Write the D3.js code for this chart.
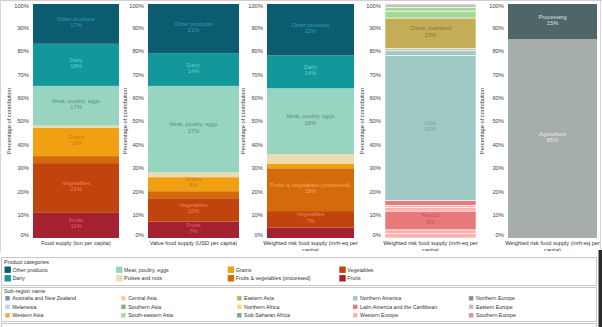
<!DOCTYPE html>
<html>
<head>
<meta charset="utf-8">
<script src="https://cdn.jsdelivr.net/npm/d3@7"></script>
<style>
  body { margin: 0; background: #fff; }
  text { font-family: "Liberation Sans", Arial, sans-serif; }
</style>
</head>
<body>
<script>
var w = 602;
var h = 327;
var svg = d3.select("body").append("svg").attr("width", w).attr("height", h);

// product categories, bottom of the stack first
var categories = ["Fruits", "Vegetables", "Fruits & vegetables (processed)", "Grains",
                  "Pulses and nuts", "Meat, poultry, eggs", "Dairy", "Other products"];
var foodSupply = [11, 21, 3, 12, 1, 17, 18, 17];
var valueSupply = [7, 10, 3, 6, 2, 37, 14, 21];
var riskSupply = [4.5, 7, 18.3, 2, 4, 28.2, 14, 22];
var catColors = ["#a4222f", "#c0440c", "#d46b0a", "#f0a010", "#eedcb0", "#98d5c1", "#12979a", "#0c5c70"];
var catText = ["#ee5a6e", "#f5825f", "#f6a566", "#c47e12", "#b9a46e", "#5f8d80", "#66cfcf", "#2f9fb8"];

// countries by weighted risk, bottom first
var countries = ["France", "Netherlands", "Mexico", "Germany", "Belgium", "Brazil", "USA",
                 "Canada", "Russia", "China, mainland", "Thailand", "Viet Nam", "Poland"];
var countryRegion = ["Western Europe", "Western Europe", "Latin America and the Caribbean", "Western Europe",
                     "Western Europe", "Latin America and the Caribbean", "Northern America", "Northern America",
                     "Eastern Europe", "Eastern Asia", "South-eastern Asia", "South-eastern Asia", "Eastern Europe"];
var countryRisk = [2, 1.5, 8, 1.5, 1, 2, 62, 2, 1, 13, 3, 1.5, 1.5];

// sub-regions (legend order) and colours
var regions = ["Australia and New Zealand", "Melanesia", "Western Asia", "Central Asia", "Southern Asia",
               "South-eastern Asia", "Eastern Asia", "Northern Africa", "Sub-Saharan Africa", "Northern America",
               "Latin America and the Caribbean", "Western Europe", "Northern Europe", "Eastern Europe", "Southern Europe"];
var regionColors = ["#4e79a7", "#a0cbe8", "#f28e2b", "#ffbe7d", "#59a14f", "#8cd17d", "#b6992d", "#f1ce63",
                    "#499894", "#86bcb6", "#e15759", "#ff9d9a", "#79706e", "#bab0ac", "#d37295"];
var regionText = {"China, mainland": "#8a7532", "USA": "#74a8a0", "Mexico": "#c0585c"};

// supply chain stages
var stages = ["Agriculture", "Processing"];
var stageRisk = [85, 15];
var stageColors = ["#a5aeaa", "#4f6669"];
var stageText = ["#e6eae8", "#d9e2e2"];

var ticks = [0, 0.1, 0.2, 0.3, 0.4, 0.5, 0.6, 0.7, 0.8, 0.9, 1];
var xLabels = [["Food supply (ton per capita)"], ["Value food supply (USD per capita)"],
               ["Weighted risk food supply (mrh-eq per", "capita)"],
               ["Weighted risk food supply (mrh-eq per", "capita)"],
               ["Weighted risk food supply (mrh-eq per", "capita)"]];

var panelX = [0, 116, 234, 353, 473];
var barL = [33, 148, 267, 385, 508];
var barR = [119, 239, 354, 476, 597];

var yS = d3.scaleLinear().domain([0, 1]).range([238, 4]);
var yA = d3.axisLeft(yS).tickValues(ticks).tickFormat(d3.format(".0%")).tickSize(0).tickPadding(3);

svg.append("defs").append("clipPath").attr("id", "clip")
    .append("rect").attr("x", 0).attr("y", 0).attr("width", w).attr("height", 251);
var chart = svg.append("g").attr("clip-path", "url(#clip)");

// frame lines
svg.append("line").attr("x1", 0).attr("x2", w).attr("y1", 0.5).attr("y2", 0.5).attr("stroke", "#cfcfcf");
svg.append("line").attr("x1", 0.5).attr("x2", 0.5).attr("y1", 0).attr("y2", 252).attr("stroke", "#d6d6d6");
svg.append("line").attr("x1", 600.5).attr("x2", 600.5).attr("y1", 0).attr("y2", 252).attr("stroke", "#d6d6d6");

function stackOf(names, vals) {
    var out = [], acc = 0;
    for (var i = 0; i < vals.length; i++) {
        out.push({name: names[i], v: vals[i], y0: acc / 100, y1: (acc + vals[i]) / 100, i: i});
        acc += vals[i];
    }
    return out;
}

function drawPanel(p, segs, fill, txt, opts) {
    var g = chart.append("g");
    var ax = g.append("g").attr("transform", "translate(" + (barL[p] - 1) + ",0)").call(yA);
    ax.select(".domain").remove();
    ax.selectAll("text").attr("font-size", "5.8px").attr("fill", "#444")
        .attr("font-family", "Liberation Sans, Arial, sans-serif")
        .attr("dy", function(d) { return d == 1 ? "0.6em" : (d == 0 ? "-0.2em" : "0.32em"); });

    g.append("text").text("Percentage of contribution")
        .attr("transform", "translate(" + (panelX[p] + 11) + ",121) rotate(-90)")
        .attr("text-anchor", "middle").attr("font-size", "5.7px").attr("fill", "#333");

    g.selectAll("rect.seg").data(segs).enter().append("rect")
        .attr("class", "seg")
        .attr("x", barL[p]).attr("width", barR[p] - barL[p])
        .attr("y", function(d) { return yS(d.y1); })
        .attr("height", function(d) { return yS(d.y0) - yS(d.y1); })
        .attr("fill", function(d) { return fill(d); })
        .attr("fill-opacity", opts.opacity || 1)
        .attr("stroke", opts.stroke ? "#fff" : "none")
        .attr("stroke-width", 0.6);

    var lab = g.selectAll("g.lab").data(segs.filter(function(d) { return opts.show(d); })).enter().append("g")
        .attr("transform", function(d) {
            return "translate(" + (barL[p] + barR[p]) / 2 + "," + (yS(d.y0) + yS(d.y1)) / 2 + ")";
        });
    lab.append("text").text(function(d) { return d.name; }).attr("y", -3)
        .attr("text-anchor", "middle").attr("font-size", "5.7px").attr("fill", function(d) { return txt(d); });
    lab.append("text").text(function(d) { return Math.round(d.v) + "%"; }).attr("y", 3.3)
        .attr("text-anchor", "middle").attr("font-size", "5.7px").attr("fill", function(d) { return txt(d); });

    g.selectAll("text.xl").data(xLabels[p]).enter().append("text")
        .attr("class", "xl").text(function(d) { return d; })
        .attr("x", (barL[p] + barR[p]) / 2).attr("y", function(d, i) { return 245 + i * 6.5; })
        .attr("text-anchor", "middle").attr("font-size", "5.6px").attr("fill", "#333");
}

function catFill(d) { return catColors[d.i]; }
function catTxt(d) { return catText[d.i]; }
function big(d) { return d.v >= 5; }

drawPanel(0, stackOf(categories, foodSupply), catFill, catTxt, {show: big});
drawPanel(1, stackOf(categories, valueSupply), catFill, catTxt, {show: big});
drawPanel(2, stackOf(categories, riskSupply), catFill, catTxt, {show: big});
drawPanel(3, stackOf(countries, countryRisk),
    function(d) { return regionColors[regions.indexOf(countryRegion[d.i])]; },
    function(d) { return regionText[d.name]; },
    {show: function(d) { return d.v >= 5; }, opacity: 0.8, stroke: true});
drawPanel(4, stackOf(stages, stageRisk),
    function(d) { return stageColors[d.i]; },
    function(d) { return stageText[d.i]; },
    {show: big});

// legends
var leg = svg.append("g");
leg.append("rect").attr("x", 1.5).attr("y", 257.5).attr("width", 595).attr("height", 28)
    .attr("fill", "none").attr("stroke", "#c9c9c9");
leg.append("rect").attr("x", 1.5).attr("y", 287.5).attr("width", 595).attr("height", 34)
    .attr("fill", "none").attr("stroke", "#c9c9c9");
leg.append("rect").attr("x", 1.5).attr("y", 323.5).attr("width", 595).attr("height", 10)
    .attr("fill", "none").attr("stroke", "#c9c9c9");
svg.append("rect").attr("x", 598.5).attr("y", 250).attr("width", 4).attr("height", 77).attr("fill", "#2b2b2b");

leg.append("text").text("Product categories").attr("x", 4).attr("y", 264.3)
    .attr("font-size", "5.4px").attr("fill", "#333");
leg.append("text").text("Sub-region name").attr("x", 4).attr("y", 293)
    .attr("font-size", "5.4px").attr("fill", "#333");

// product legend in column order, top category first
var catLegend = categories.slice().reverse();
var catLegendColor = catColors.slice().reverse();
var cl = leg.selectAll("g.cl").data(catLegend).enter().append("g")
    .attr("transform", function(d, i) {
        return "translate(" + (4.5 + Math.floor(i / 2) * 111.6) + "," + (269.7 + (i % 2) * 8.6) + ")";
    });
cl.append("rect").attr("x", 0).attr("y", -3.2).attr("width", 6.4).attr("height", 6.4)
    .attr("fill", function(d, i) { return catLegendColor[i]; });
cl.append("text").text(function(d) { return d; }).attr("x", 8).attr("y", 2)
    .attr("font-size", "5.3px").attr("fill", "#333");

var rl = leg.selectAll("g.rl").data(regions).enter().append("g")
    .attr("transform", function(d, i) {
        return "translate(" + (5.3 + Math.floor(i / 3) * 115.9) + "," + (298.3 + (i % 3) * 8.5) + ")";
    });
rl.append("rect").attr("x", 0).attr("y", -2.2).attr("width", 4.4).attr("height", 4.4)
    .attr("fill", function(d, i) { return regionColors[i]; }).attr("fill-opacity", 0.8);
rl.append("text").text(function(d) { return d; }).attr("x", 7).attr("y", 2)
    .attr("font-size", "5.3px").attr("fill", "#333");
</script>
</body>
</html>
